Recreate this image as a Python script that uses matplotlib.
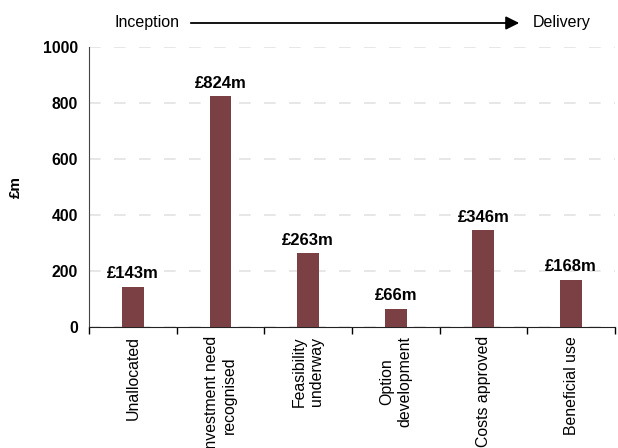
import matplotlib
matplotlib.use("Agg")
import matplotlib.pyplot as plt
import numpy as np

plt.rcParams['font.family'] = ['Liberation Sans', 'DejaVu Sans']

categories = ["Unallocated", "Investment need\nrecognised", "Feasibility\nunderway",
              "Option\ndevelopment", "Costs approved", "Beneficial use"]
values = [143, 824, 263, 66, 346, 168]
bar_labels = ["£143m", "£824m", "£263m", "£66m", "£346m", "£168m"]
y_ticks = [0, 200, 400, 600, 800, 1000]

bar_color = "#7a4043"

fig = plt.figure(figsize=(6.18, 4.48), dpi=100)
ax = fig.add_axes([0.144, 0.270, 0.851, 0.625])

x = np.arange(len(categories)) + 0.5
ax.bar(x, values, width=0.25, color=bar_color, zorder=3)

for xi, v, lab in zip(x, values, bar_labels):
    ax.annotate(lab, (xi, v), xytext=(0, 4), textcoords="offset points",
                ha="center", va="bottom", fontsize=12, fontweight="bold")

ax.set_xlim(0, len(categories))
ax.set_ylim(0, 1000)
ax.set_yticks(y_ticks)
ax.set_yticklabels([str(t) for t in y_ticks], fontsize=11.3, fontweight="bold")
ax.tick_params(axis="y", length=0, pad=8)

# boundaries between stages carry the tick marks; names sit at the centres
ax.set_xticks(np.arange(len(categories) + 1))
ax.set_xticklabels([])
ax.tick_params(axis="x", which="major", direction="out", length=5, width=1)
ax.set_xticks(x, minor=True)
ax.set_xticklabels(categories, minor=True, rotation=90, fontsize=11.4,
                   ha="center", va="top", multialignment="center")
ax.tick_params(axis="x", which="minor", length=0, pad=6.5)

for s in ["top", "right"]:
    ax.spines[s].set_visible(False)
ax.spines["left"].set_color("#444444")
ax.spines["bottom"].set_color("#222222")

ax.yaxis.grid(True, color="#e3e3e3", linewidth=1.2, dashes=(7, 8), zorder=0)
ax.set_axisbelow(True)

ax.set_ylabel("£m", fontsize=11, fontweight="bold", labelpad=14)

# stage progression arrow above the plot
fig.text(114 / 618, 1 - 22 / 448, "Inception", fontsize=11.5, va="center", ha="left")
fig.text(533 / 618, 1 - 22 / 448, "Delivery", fontsize=11.5, va="center", ha="left")
fig.add_artist(matplotlib.patches.FancyArrowPatch(
    (188 / 618, 1 - 23 / 448), (522 / 618, 1 - 23 / 448),
    transform=fig.transFigure, arrowstyle="-|>,head_length=8,head_width=4",
    mutation_scale=1, color="black", linewidth=1.3))

fig.savefig("out.png", dpi=100)
